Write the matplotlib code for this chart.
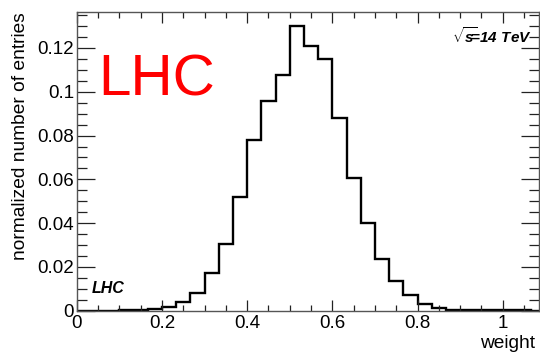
import numpy as np
import matplotlib
matplotlib.use('Agg')
from matplotlib import pyplot as plt
from matplotlib.ticker import MultipleLocator

plt.rcParams['font.family'] = ['Liberation Sans', 'DejaVu Sans']
plt.rcParams['mathtext.fontset'] = 'custom'
plt.rcParams['mathtext.it'] = 'Liberation Sans:italic:bold'
plt.rcParams['mathtext.rm'] = 'Liberation Sans:bold'

### Data: normalized entries per bin (bins of 1/30 from 0 to 1.1)
x_lo = 0.0
x_hi = 1.1
counts = [0.0, 0.0, 0.0, 0.0001, 0.0003, 0.0006, 0.0018, 0.0040, 0.0082,
          0.0174, 0.0306, 0.0518, 0.0778, 0.0960, 0.1077, 0.1302, 0.1209,
          0.1150, 0.0880, 0.0608, 0.0400, 0.0236, 0.0137, 0.0070, 0.0029,
          0.0011, 0.0005, 0.0002, 0.0002, 0.0001, 0.0002, 0.0001, 0.0]
edges = np.linspace(x_lo, x_hi, len(counts) + 1)

x_ticks = [0, 0.2, 0.4, 0.6, 0.8, 1.0]
x_ticklabels = ['0', '0.2', '0.4', '0.6', '0.8', '1']
y_ticks = [0, 0.02, 0.04, 0.06, 0.08, 0.1, 0.12]
y_ticklabels = ['0', '0.02', '0.04', '0.06', '0.08', '0.1', '0.12']

# Plot
fig = plt.figure(figsize=(5.4, 3.53), dpi=100)
ax = fig.add_axes([76.7/540, 1 - 310.7/353, (539 - 76.7)/540, (310.7 - 12.3)/353])

ax.stairs(counts, edges, color='black', lw=1.7, baseline=0)

ax.set_xlim(0, 1.085)
ax.set_ylim(0, 0.1363)
ax.set_xticks(x_ticks)
ax.set_xticklabels(x_ticklabels)
ax.set_yticks(y_ticks)
ax.set_yticklabels(y_ticklabels)
ax.xaxis.set_minor_locator(MultipleLocator(0.05))
ax.yaxis.set_minor_locator(MultipleLocator(0.005))

ax.tick_params(axis='both', which='both', direction='in', top=True, right=True,
               labelsize=13.5, color='#222222', width=0.9)
ax.tick_params(axis='x', which='major', length=8, pad=3)
ax.tick_params(axis='x', which='minor', length=4)
ax.tick_params(axis='y', which='major', length=13, pad=2)
ax.tick_params(axis='y', which='minor', length=7)
for sp in ax.spines.values():
    sp.set_color('#555555')
    sp.set_linewidth(1.0)

fig.text(21/540, 1 - 12/353, 'normalized number of entries', rotation=90,
         ha='center', va='top', fontsize=13.8)
fig.text(535/540, 1 - 343/353, 'weight', ha='right', va='center', fontsize=13.8)

ax.text(98/540, 1 - 96/353, 'LHC', transform=fig.transFigure, color='red',
        fontsize=42, ha='left', va='baseline')
ax.text(92/540, 1 - 293/353, 'LHC', transform=fig.transFigure,
        fontsize=11.5, fontweight='bold', fontstyle='italic', ha='left', va='baseline')
ax.text(532/540, 1 - 43/353, r'$\sqrt{s}\!\!$=14 TeV', transform=fig.transFigure,
        fontsize=11, fontweight='bold', fontstyle='italic', ha='right', va='baseline')

fig.savefig('out.png', dpi=100)
